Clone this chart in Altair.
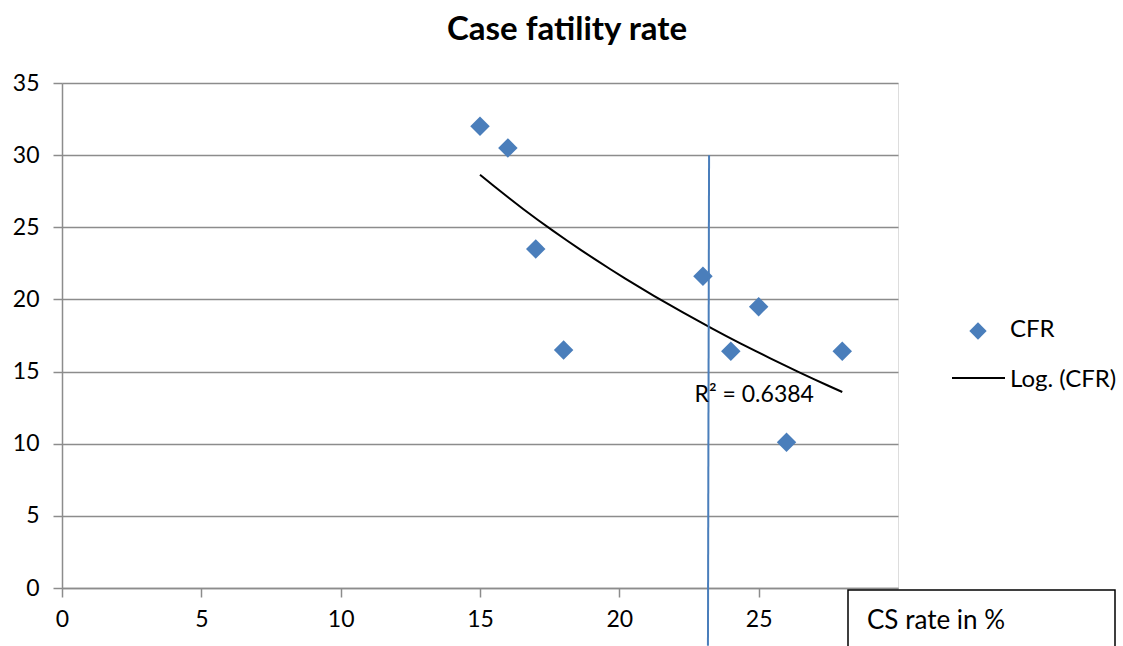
import altair as alt
import pandas as pd

# data
cs_rate = [15, 16, 17, 18, 23, 24, 25, 26, 28]
cfr = [32.0, 30.5, 23.5, 16.5, 21.6, 16.4, 19.5, 10.1, 16.4]

# vertical reference line (data coords)
ref_x = [23.22, 23.18]
ref_y = [30, -4]

# R² label position (data coords)
r2_text = "R² = 0.6384"
r2_pos = [22.7, 12.9]

FONT = "Lato"
BLUE = "#4a7ebb"
GRID = "#8c8c8c"

df = pd.DataFrame({"cs": cs_rate, "cfr": cfr})

xscale = alt.Scale(domain=[0, 30], nice=False, zero=False)
yscale = alt.Scale(domain=[0, 35], nice=False)

base = alt.Chart(df)

points = base.mark_point(shape="diamond", filled=True, size=380, color=BLUE, opacity=1).encode(
    x=alt.X("cs:Q", scale=xscale,
            axis=alt.Axis(values=[0, 5, 10, 15, 20, 25], grid=False, title=None,
                          domainColor=GRID, domainWidth=1.5, tickColor=GRID, tickWidth=1.5,
                          tickSize=9, labelFont=FONT, labelFontSize=23, labelColor="black",
                          labelPadding=11, labelFlush=False)),
    y=alt.Y("cfr:Q", scale=yscale,
            axis=alt.Axis(values=[0, 5, 10, 15, 20, 25, 30, 35], grid=True, gridColor=GRID,
                          gridWidth=1.5, title=None, domainColor=GRID, domainWidth=1.5,
                          tickColor=GRID, tickWidth=1.5, tickSize=9, labelFont=FONT,
                          labelFontSize=23, labelColor="black", labelPadding=14)),
)

trend = base.transform_regression("cs", "cfr", method="log").mark_line(
    color="black", strokeWidth=2
).encode(x=alt.X("cs:Q", scale=xscale), y=alt.Y("cfr:Q", scale=yscale))

ref_df = pd.DataFrame({"x": [ref_x[0]], "x2": [ref_x[1]], "y": [ref_y[0]], "y2": [ref_y[1]]})
ref_line = alt.Chart(ref_df).mark_rule(color=BLUE, strokeWidth=2).encode(
    x=alt.X("x:Q", scale=xscale), x2="x2:Q",
    y=alt.Y("y:Q", scale=yscale), y2="y2:Q",
)

r2_df = pd.DataFrame({"x": [r2_pos[0]], "y": [r2_pos[1]], "t": [r2_text]})
r2 = alt.Chart(r2_df).mark_text(align="left", baseline="alphabetic", font=FONT,
                                fontSize=23, color="black").encode(
    x=alt.X("x:Q", scale=xscale), y=alt.Y("y:Q", scale=yscale), text="t:N")

# legend (decorations, positioned in pixels relative to plot origin)
one = pd.DataFrame({"a": [0]})
leg_sym = alt.Chart(one).mark_point(shape="diamond", filled=True, size=300, color=BLUE,
                                    opacity=1).encode(x=alt.value(916), y=alt.value(248))
leg_t1 = alt.Chart(one).mark_text(align="left", baseline="alphabetic", font=FONT, fontSize=24,
                                  color="black", text="CFR").encode(x=alt.value(948), y=alt.value(254))
leg_line = alt.Chart(one).mark_rule(color="black", strokeWidth=2).encode(
    x=alt.value(890), x2=alt.value(943), y=alt.value(295))
leg_t2 = alt.Chart(one).mark_text(align="left", baseline="alphabetic", font=FONT, fontSize=24,
                                  color="black", text="Log. (CFR)").encode(x=alt.value(948), y=alt.value(304))

# x-axis title box
box = alt.Chart(one).mark_rect(fill="white", stroke="black", strokeWidth=1.5).encode(
    x=alt.value(786), x2=alt.value(1053), y=alt.value(507), y2=alt.value(620))
box_t = alt.Chart(one).mark_text(align="left", baseline="alphabetic", font=FONT, fontSize=26,
                                 color="black", text="CS rate in %").encode(
    x=alt.value(805), y=alt.value(546))

chart = alt.layer(points, trend, ref_line, r2, leg_sym, leg_t1, leg_line, leg_t2, box, box_t).properties(
    width=836, height=505,
    title=alt.TitleParams("Case fatility rate", font=FONT, fontSize=33, fontWeight="bold",
                          color="black", anchor="middle", dx=87, offset=25),
    autosize=alt.AutoSizeParams(type="none"),
    padding={"left": 62, "top": 83, "right": 225, "bottom": 58},
).configure_view(stroke=None).configure(background="white")

chart.save("out.html", embed_options={"renderer": "svg", "actions": False})
